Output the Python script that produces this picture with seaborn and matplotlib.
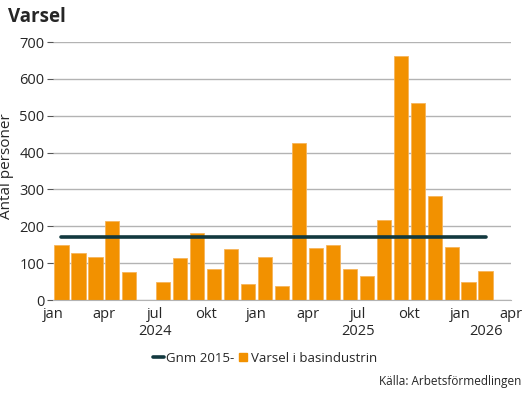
import pandas as pd
import seaborn as sns
import matplotlib.pyplot as plt
from matplotlib.lines import Line2D

# Data: varsel per månad jan 2024 - feb 2026
manader = ["2024-01", "2024-02", "2024-03", "2024-04", "2024-05", "2024-06",
           "2024-07", "2024-08", "2024-09", "2024-10", "2024-11", "2024-12",
           "2025-01", "2025-02", "2025-03", "2025-04", "2025-05", "2025-06",
           "2025-07", "2025-08", "2025-09", "2025-10", "2025-11", "2025-12",
           "2026-01", "2026-02"]
varsel = [150, 127, 118, 215, 76, 0, 50, 113, 182, 83, 138, 43,
          117, 38, 425, 142, 148, 85, 66, 217, 662, 535, 283, 144,
          50, 78]
snitt = 170  # Gnm 2015-

tick_labels = ["jan", "apr", "jul", "okt"]
ar = ["2024", "2025", "2026"]

orange = "#F29100"
mork = "#12393F"

sns.set_style("white")
plt.rcParams["font.family"] = ["Open Sans", "DejaVu Sans"]

df = pd.DataFrame({"Månad": pd.to_datetime(manader), "Varsel": varsel})
start = df["Månad"].min()
df["pos"] = (df["Månad"].dt.year - start.year) * 12 + (df["Månad"].dt.month - start.month) + 0.5
df["Gnm"] = snitt

fig = plt.figure(figsize=(5.3, 3.98), dpi=100)
ax = fig.add_axes([53 / 530, 1 - 300 / 398, 458 / 530, 258 / 398])

sns.barplot(data=df, x="pos", y="Varsel", native_scale=True, color=orange,
            saturation=1, width=0.84, edgecolor="#F6B55A", linewidth=0.6, ax=ax)
sns.lineplot(data=df, x="pos", y="Gnm", color=mork, linewidth=2.6, ax=ax)

n_man = 27
ax.set_xlim(0, n_man)
ax.set_ylim(0, 700)
ax.set_yticks(range(0, 701, 100))
ax.set_xticks(range(0, n_man + 1, 3))
ax.set_xticklabels([tick_labels[i % 4] for i in range(n_man // 3 + 1)])
ax.yaxis.grid(True, color="#b3b3b3", linewidth=1)
ax.set_axisbelow(True)
for s in ["top", "right", "left"]:
    ax.spines[s].set_visible(False)
ax.spines["bottom"].set_color("#b3b3b3")
ax.tick_params(axis="x", length=3, color="#555555", labelsize=10.5, pad=2)
ax.tick_params(axis="y", length=4, color="#555555", labelsize=10.5, pad=2, left=True)
ax.set_xlabel("")
ax.set_ylabel("Antal personer", fontsize=11)
ax.yaxis.set_label_coords(-39 / 458, 0.52)

# Årsetiketter centrerade under respektive år
for i, a in enumerate(ar):
    lo = i * 12
    hi = min((i + 1) * 12, n_man)
    ax.text((lo + hi) / 2, -0.094, a, transform=ax.get_xaxis_transform(),
            ha="center", va="top", fontsize=10.5)

fig.text(8 / 530, 1 - 17 / 398, "Varsel", fontsize=13.5, fontweight="bold", va="center")

handles = [Line2D([0], [0], color=mork, linewidth=2.6),
           Line2D([0], [0], marker="s", color=orange, linestyle="none", markersize=5.5)]
fig.legend(handles, ["Gnm 2015-", "Varsel i basindustrin"], loc="center",
           bbox_to_anchor=(0.5, 1 - 358 / 398), ncol=2, frameon=False, fontsize=9.5,
           handlelength=0.9, handletextpad=0.15, columnspacing=0.2)

fig.text(521 / 530, 1 - 382 / 398, "Källa: Arbetsförmedlingen", ha="right", va="center", fontsize=8.5)

plt.savefig("out.png", dpi=100)
